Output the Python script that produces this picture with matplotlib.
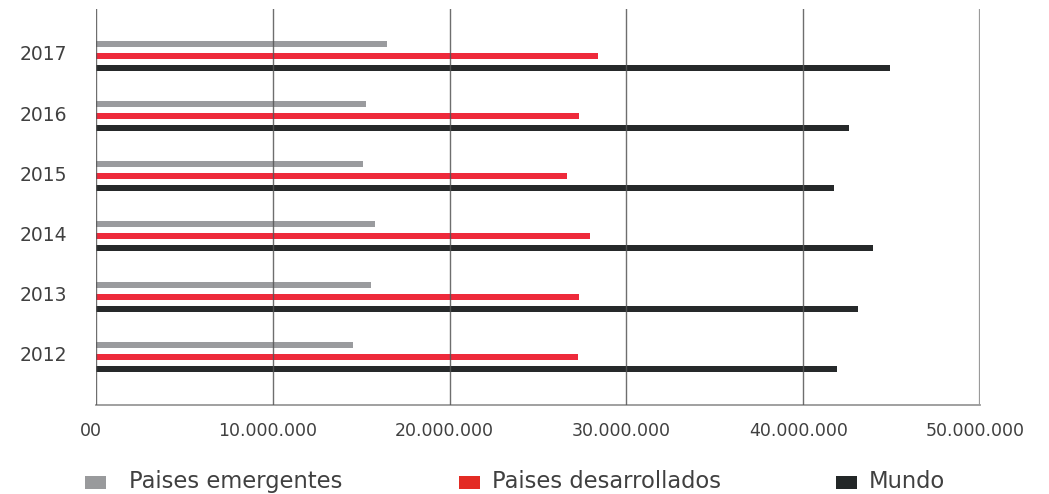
import matplotlib
matplotlib.use("Agg")
import matplotlib.pyplot as plt
from matplotlib.patches import Rectangle
from matplotlib.transforms import ScaledTranslation
import numpy as np

# Data (values in people)
years = ["2012", "2013", "2014", "2015", "2016", "2017"]
emergentes = [14.54e6, 15.54e6, 15.78e6, 15.08e6, 15.25e6, 16.44e6]
desarrollados = [27.24e6, 27.34e6, 27.96e6, 26.62e6, 27.34e6, 28.41e6]
mundo = [41.89e6, 43.10e6, 43.93e6, 41.76e6, 42.61e6, 44.89e6]

x_ticks = [0, 10e6, 20e6, 30e6, 40e6, 50e6]
x_tick_labels = ["00", "10.000.000", "20.000.000", "30.000.000", "40.000.000", "50.000.000"]

series_labels = ["Paises emergentes", "Paises desarrollados", "Mundo"]

c_gray = "#9a9b9e"
c_red = "#ee2a3b"
c_black = "#26292a"
legend_colors = ["#999a9c", "#e32b24", "#232728"]
text_color = "#404040"

W, H = 1049, 494
fig = plt.figure(figsize=(W / 100, H / 100), dpi=100)
ax = fig.add_axes([96 / W, 1 - 405 / H, (980 - 96) / W, (405 - 9) / H])

y = np.arange(len(years))
bar_h = 0.1
off = 0.2
ax.barh(y + off, emergentes, height=bar_h, color=c_gray, zorder=2)
ax.barh(y, desarrollados, height=bar_h, color=c_red, zorder=2)
ax.barh(y - off, mundo, height=bar_h, color=c_black, zorder=2)

ax.set_xlim(0, 50e6)
ax.set_ylim(-0.803, 5.78)

# Vertical grid lines over the bars
for xv in x_ticks[:-1]:
    ax.axvline(xv, color="#555555", lw=1.0, alpha=0.85, zorder=3)
ax.axvline(x_ticks[-1], color="#9a9a9a", lw=1.6, zorder=3)

for side in ["top", "right", "left"]:
    ax.spines[side].set_visible(False)
ax.spines["bottom"].set_color("#999999")
ax.spines["bottom"].set_linewidth(1.3)

ax.set_xticks(x_ticks)
ax.set_xticklabels(x_tick_labels, fontsize=12.5, color=text_color)
ax.tick_params(axis="x", length=0, pad=12.5)
shift = ScaledTranslation(-5 / 100, 0, fig.dpi_scale_trans)
for lbl in ax.get_xticklabels():
    lbl.set_transform(lbl.get_transform() + shift)

ax.set_yticks(y)
ax.set_yticklabels(years, fontsize=13.5, color=text_color)
ax.tick_params(axis="y", length=0, pad=21)
lift = ScaledTranslation(0, 3 / 100, fig.dpi_scale_trans)
for lbl in ax.get_yticklabels():
    lbl.set_transform(lbl.get_transform() + lift)

# Legend drawn as squares and labels along the bottom
sq_x = [85, 459, 836]
txt_x = [129, 492, 869]
for sx, tx, lab, col in zip(sq_x, txt_x, series_labels, legend_colors):
    fig.add_artist(Rectangle((sx / W, 1 - 488.5 / H), 21 / W, 13 / H,
                             transform=fig.transFigure, color=col, lw=0))
    fig.text(tx / W, 1 - 481 / H, lab, fontsize=16.3, color=text_color,
             va="center", ha="left")

fig.savefig("out.png", dpi=100)
